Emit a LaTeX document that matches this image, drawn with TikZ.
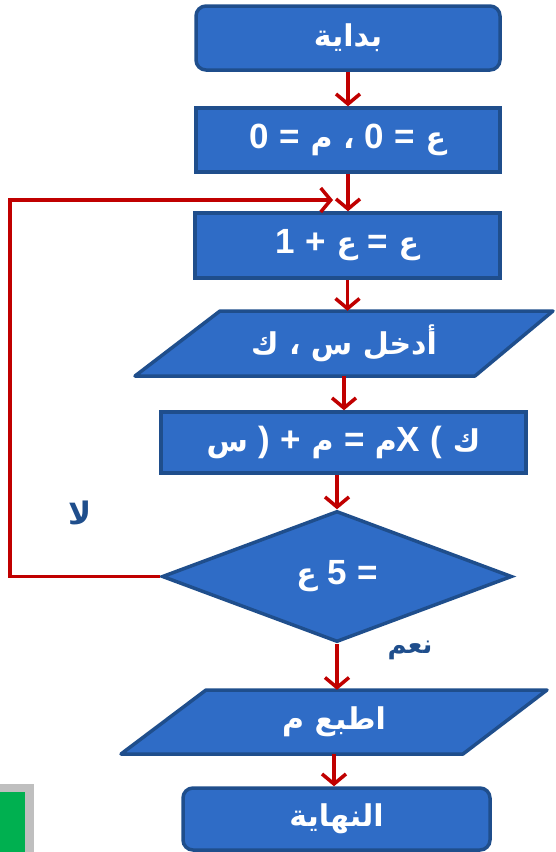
\documentclass[tikz,border=0pt]{standalone}
\usepackage{fontspec}
\usetikzlibrary{shapes.geometric,arrows.meta}
\newfontfamily\arabicfont[Script=Arabic]{DejaVu Sans}
\newfontfamily\latinfont{Liberation Sans}
\newcommand\ltn[1]{{\latinfont\bfseries\fontsize{35}{40}\selectfont #1}}
\TeXXeTstate=1
\definecolor{boxfill}{HTML}{2F6CC6}
\definecolor{boxline}{HTML}{1F4E8C}
\definecolor{arrred}{HTML}{C00000}
\definecolor{lblblue}{HTML}{1F4E8C}
\definecolor{grbox}{HTML}{00B050}
\definecolor{grborder}{HTML}{BFBFBF}
\begin{document}
\begin{tikzpicture}[x=1pt,y=1pt,
  txt/.style={text=white,font=\arabicfont\bfseries\fontsize{30}{36}\selectfont},
  procbox/.style={txt,draw=boxline,fill=boxfill,line width=3.5pt,inner sep=0pt},
  termbox/.style={procbox,rounded corners=10pt},
  shapefill/.style={draw=boxline,fill=boxfill,line width=3.5pt,line join=round},
  ghost/.style={txt,inner sep=0pt},
  decision/.style={procbox,diamond,aspect=2.67},
  arr/.style={draw=arrred,line width=3.5pt,-{Straight Barb[length=10pt,width=24pt]}},
  lbl/.style={text=lblblue,font=\arabicfont\bfseries\fontsize{26}{30}\selectfont}]
\useasboundingbox (0,0) rectangle (555,-852);
% green box at lower left
\fill[grborder] (0,-784) rectangle (34,-852);
\fill[grbox] (0,-792) rectangle (25,-852);
% parallelograms
\filldraw[shapefill] (220,-311) -- (553,-311) -- (475,-376) -- (135,-376) -- cycle;
\filldraw[shapefill] (206,-690) -- (547,-690) -- (463,-754) -- (121,-754) -- cycle;
% nodes
\node[termbox,minimum width=304pt,minimum height=64pt] (start) at (348,-38) {\beginR بداية\endR};
\node[procbox,minimum width=304pt,minimum height=64pt] (b2) at (348,-140) {\beginR ع \ltn{=} \ltn{0} ، م \ltn{=} \ltn{0}\endR};
\node[procbox,minimum width=305pt,minimum height=65pt] (b3) at (347.5,-245.5) {\beginR ع \ltn{=} ع \ltn{+} \ltn{1}\endR};
\node[ghost,minimum width=330pt,minimum height=65pt] (p1) at (344,-343.5) {\beginR أدخل س ، ك\endR};
\node[procbox,minimum width=365pt,minimum height=61pt] (b5) at (343.5,-442.5) {\beginR ك \ltn{(} \ltn{X}م \ltn{=} م \ltn{+} \ltn{)} س\endR};
\node[decision,minimum width=350pt,minimum height=131pt] (d) at (337,-576.5) {\beginR \ltn{=} \ltn{5} ع\endR};
\node[ghost,minimum width=330pt,minimum height=64pt] (p2) at (334,-722) {\beginR اطبع م\endR};
\node[termbox,minimum width=307pt,minimum height=62pt] (end) at (336.5,-819) {\beginR النهاية\endR};
% labels
\node[lbl,font=\arabicfont\bfseries\fontsize{31}{34}\selectfont] (no) at (80,-513) {\beginR لا\endR};
\node[lbl] (yes) at (410,-650) {\beginR نعم\endR};
% connectors
\draw[arr] (start.south) -- (start.south |- b2.north);
\draw[arr] (b2.south) -- (b2.south |- b3.north);
\draw[arr] (b3.south) -- (b3.south |- p1.north);
\draw[arr] (p1.south) -- (p1.south |- b5.north);
\draw[arr] (b5.south -| d.north) -- (d.north);
\draw[arr] (d.south) -- (d.south |- p2.north);
\coordinate (l2) at (10,-200);
\coordinate (lt) at (333,-200);
\draw[arr] (d.west) -- (d.west -| l2) -- (l2) -- (lt);
\draw[arr] (p2.south) -- (p2.south |- end.north);
\end{tikzpicture}
\end{document}
